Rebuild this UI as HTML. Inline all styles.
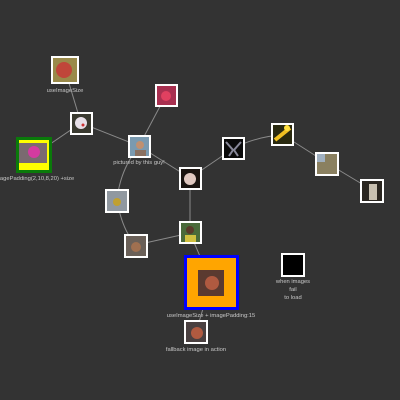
<!DOCTYPE html>
<html><head><meta charset="utf-8"><style>
html,body{margin:0;padding:0;background:#333;}
svg{display:block}
text{font-family:"Liberation Sans",sans-serif;font-size:5.8px;fill:#c8c8c8;text-anchor:middle}
</style></head><body>
<svg width="400" height="400" viewBox="0 0 400 400">
<rect width="400" height="400" fill="#333"/>
<g stroke="#8a8a8a" stroke-width="1" fill="none">
<line x1="65" y1="70" x2="81" y2="123"/>
<line x1="81" y1="123" x2="34" y2="155"/>
<line x1="81" y1="123" x2="139" y2="146"/>
<line x1="166" y1="95" x2="139" y2="146"/>
<line x1="139" y1="146" x2="190" y2="178"/>
<path d="M139,146 Q120,170 117,200"/>
<path d="M117,200 Q122,230 136,245"/>
<line x1="136" y1="245" x2="190" y2="233"/>
<line x1="190" y1="178" x2="190" y2="233"/>
<line x1="190" y1="178" x2="234" y2="148"/>
<path d="M234,148 Q258,136 283,135"/>
<line x1="283" y1="135" x2="327" y2="163"/>
<line x1="327" y1="163" x2="372" y2="190"/>
<line x1="190" y1="233" x2="211" y2="282"/>
<line x1="211" y1="282" x2="196" y2="332"/>
</g>

<g>
<rect x="51" y="56" width="28" height="28" fill="#fff"/><rect x="53" y="58" width="24" height="24" fill="#9a8a4a"/><circle cx="64" cy="70" r="8" fill="#c0463a"/>
<text x="65" y="92">useImageSize</text></g>

<g>
<rect x="70" y="112" width="23" height="23" fill="#fff"/><rect x="72" y="114" width="19" height="19" fill="#3a3a30"/><circle cx="81" cy="123" r="6" fill="#e8e0e8"/><circle cx="83" cy="125" r="1.5" fill="#c33"/></g>

<g>
<rect x="16" y="137" width="36" height="36" fill="#0a7a0a"/><rect x="19" y="140" width="30" height="30" fill="#ff0"/><rect x="19" y="143" width="28" height="20" fill="#7a6a70"/><circle cx="34" cy="152" r="6" fill="#d43aa0"/>
<text x="34" y="180">imagePadding(2,10,8,20) +size</text></g>

<g>
<rect x="155" y="84" width="23" height="23" fill="#fff"/><rect x="157" y="86" width="19" height="19" fill="#a83050"/><circle cx="166" cy="96" r="5" fill="#e04060"/></g>

<g>
<rect x="128" y="135" width="23" height="23" fill="#fff"/><rect x="130" y="137" width="19" height="19" fill="#7a9ab0"/><circle cx="140" cy="145" r="4" fill="#c09070"/><rect x="135" y="150" width="11" height="6" fill="#8a7060"/>
<text x="139" y="164">pictured by this guy!</text></g>

<g>
<rect x="179" y="167" width="23" height="23" fill="#fff"/><rect x="181" y="169" width="19" height="19" fill="#1a1410"/><circle cx="190" cy="179" r="6" fill="#e0c8c0"/></g>

<g>
<rect x="222" y="137" width="23" height="23" fill="#fff"/><rect x="224" y="139" width="19" height="19" fill="#0a0a0a"/><path d="M226,142 L233,150 L229,156 M241,142 L234,150 L238,156" stroke="#889" stroke-width="2" fill="none"/></g>

<g>
<rect x="271" y="123" width="23" height="23" fill="#fff"/><rect x="273" y="125" width="19" height="19" fill="#2a2a10"/><path d="M275,140 L290,128" stroke="#f0c020" stroke-width="4"/><circle cx="287" cy="128" r="3" fill="#ffe040"/></g>

<g>
<rect x="315" y="152" width="24" height="24" fill="#fff"/><rect x="317" y="154" width="20" height="20" fill="#8a8060"/><rect x="317" y="154" width="8" height="8" fill="#a0b0c0"/></g>

<g>
<rect x="360" y="179" width="24" height="24" fill="#fff"/><rect x="362" y="181" width="20" height="20" fill="#2a2620"/><rect x="369" y="184" width="8" height="16" fill="#c8c0b0"/></g>

<g>
<rect x="105" y="189" width="24" height="24" fill="#fff"/><rect x="107" y="191" width="20" height="20" fill="#9098a0"/><circle cx="117" cy="202" r="4" fill="#c0a030"/></g>

<g>
<rect x="124" y="234" width="24" height="24" fill="#fff"/><rect x="126" y="236" width="20" height="20" fill="#6a6058"/><circle cx="136" cy="247" r="5" fill="#a07050"/></g>

<g>
<rect x="179" y="221" width="23" height="23" fill="#fff"/><rect x="181" y="223" width="19" height="19" fill="#4a6a3a"/><circle cx="190" cy="230" r="4" fill="#5a3a2a"/><rect x="185" y="235" width="11" height="7" fill="#d0c040"/></g>

<g>
<rect x="184" y="255" width="55" height="55" fill="#0000ff"/><rect x="187" y="258" width="49" height="49" fill="#ffa500"/><rect x="198" y="270" width="26" height="26" fill="#5a3a30"/><circle cx="212" cy="283" r="7" fill="#b05a40"/>
<text x="211" y="317">useImageSize + imagePadding:15</text></g>

<g>
<rect x="281" y="253" width="24" height="24" fill="#fff"/><rect x="283" y="255" width="20" height="20" fill="#000"/>
<text x="293" y="283">when images</text><text x="293" y="291">fail</text><text x="293" y="299">to load</text></g>

<g>
<rect x="184" y="320" width="24" height="24" fill="#fff"/><rect x="186" y="322" width="20" height="20" fill="#4a4040"/><circle cx="197" cy="333" r="6" fill="#b05a40"/>
<text x="196" y="351">fallback image in action</text></g>
</svg>
</body></html>
